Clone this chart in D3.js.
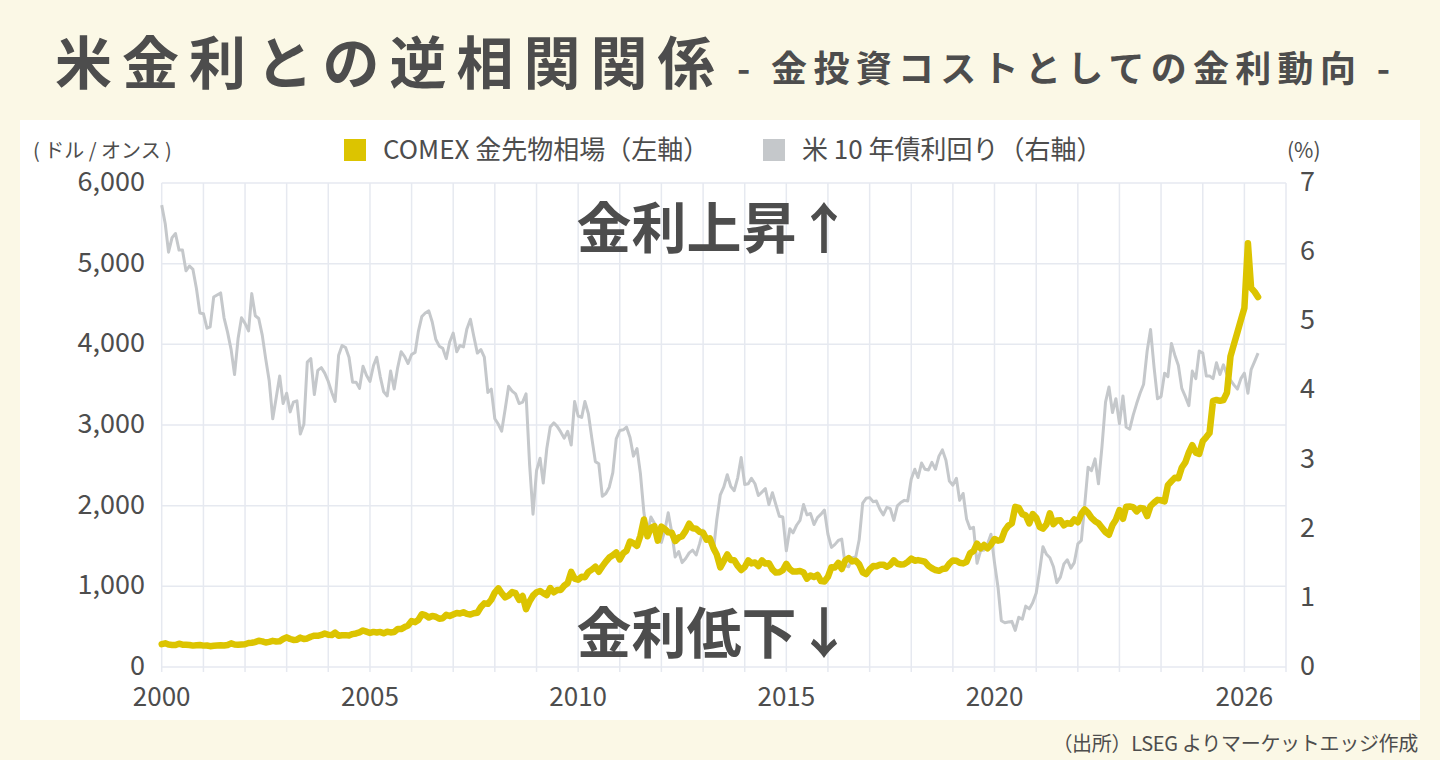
<!DOCTYPE html>
<html>
<head>
<meta charset="utf-8">
<script src="https://cdn.jsdelivr.net/npm/d3@7"></script>
<style>
  html, body { margin: 0; padding: 0; background: #fbf8e6; }
  svg { display: block; font-family: "Noto Sans CJK JP", "Noto Sans", sans-serif; }
</style>
</head>
<body>
<script>
// canvas
var w = 1440;
var h = 760;

// COMEX gold futures, USD/oz, monthly from Jan 2000
var goldPrice = [
  283, 294, 278, 274, 272, 289, 277, 277, 273, 265, 270, 273,
  265, 267, 258, 264, 267, 270, 266, 273, 293, 279, 275, 279,
  282, 297, 301, 309, 326, 318, 304, 312, 324, 317, 319, 347,
  368, 347, 335, 339, 364, 346, 354, 375, 388, 386, 398, 416,
  400, 396, 427, 388, 394, 395, 391, 408, 416, 429, 453, 438,
  422, 435, 428, 435, 417, 437, 429, 433, 470, 470, 495, 513,
  569, 556, 583, 654, 643, 613, 633, 623, 598, 604, 646, 632,
  651, 669, 663, 679, 659, 650, 666, 673, 743, 789, 783, 834,
  923, 975, 916, 864, 885, 928, 915, 833, 880, 718, 814, 884,
  927, 942, 916, 891, 979, 926, 954, 955, 1008, 1040, 1179, 1096,
  1081, 1118, 1113, 1179, 1207, 1244, 1181, 1247, 1307, 1357, 1385, 1421,
  1333, 1411, 1439, 1556, 1536, 1502, 1628, 1828, 1620, 1725, 1746, 1566,
  1740, 1710, 1669, 1664, 1561, 1604, 1622, 1688, 1776, 1719, 1713, 1676,
  1663, 1578, 1595, 1476, 1393, 1234, 1312, 1396, 1326, 1323, 1253, 1202,
  1240, 1321, 1284, 1296, 1250, 1322, 1282, 1287, 1210, 1171, 1175, 1199,
  1278, 1212, 1183, 1184, 1190, 1172, 1095, 1135, 1115, 1142, 1065, 1061,
  1118, 1238, 1234, 1291, 1215, 1321, 1350, 1309, 1317, 1273, 1174, 1152,
  1211, 1252, 1248, 1268, 1269, 1242, 1269, 1322, 1280, 1271, 1275, 1303,
  1343, 1318, 1325, 1315, 1305, 1253, 1224, 1202, 1192, 1215, 1222, 1282,
  1321, 1316, 1292, 1284, 1305, 1410, 1437, 1529, 1472, 1512, 1472, 1517,
  1587, 1566, 1577, 1694, 1751, 1781, 1985, 1973, 1895, 1880, 1780, 1895,
  1850, 1734, 1715, 1768, 1905, 1771, 1817, 1818, 1757, 1784, 1776, 1829,
  1795, 1900, 1954, 1911, 1848, 1807, 1782, 1726, 1672, 1640, 1759, 1826,
  1945, 1837, 1986, 1990, 1982, 1929, 1971, 1966, 1870, 1996, 2038, 2072,
  2067, 2054, 2254, 2302, 2345, 2339, 2473, 2536, 2660, 2749, 2657, 2641,
  2800, 2850, 2900, 3300, 3310, 3300, 3310, 3400, 3850, 4000, 4150, 4300,
  4450, 5254, 4700, 4650, 4585
];

// US 10y treasury yield, %, monthly from Jan 2000
var yield10y = [
  6.68, 6.41, 6.00, 6.21, 6.27, 6.03, 6.03, 5.73, 5.80, 5.75, 5.47, 5.12,
  5.11, 4.90, 4.92, 5.35, 5.38, 5.41, 5.05, 4.84, 4.59, 4.23, 4.75, 5.05,
  4.97, 4.86, 5.40, 5.08, 5.04, 4.80, 4.46, 4.14, 3.59, 3.89, 4.21, 3.81,
  3.96, 3.69, 3.83, 3.85, 3.37, 3.51, 4.41, 4.46, 3.94, 4.29, 4.33, 4.25,
  4.13, 3.97, 3.84, 4.51, 4.65, 4.62, 4.48, 4.12, 4.12, 4.03, 4.35, 4.22,
  4.13, 4.36, 4.48, 4.20, 3.98, 3.92, 4.28, 4.02, 4.33, 4.56, 4.49, 4.39,
  4.52, 4.55, 4.85, 5.07, 5.12, 5.15, 4.99, 4.74, 4.64, 4.61, 4.46, 4.70,
  4.83, 4.56, 4.65, 4.63, 4.89, 5.03, 4.78, 4.54, 4.59, 4.48, 3.97, 4.02,
  3.59, 3.51, 3.41, 3.73, 4.06, 3.99, 3.95, 3.81, 3.83, 3.95, 2.93, 2.21,
  2.84, 3.02, 2.66, 3.16, 3.47, 3.53, 3.48, 3.40, 3.31, 3.41, 3.21, 3.84,
  3.63, 3.61, 3.84, 3.66, 3.31, 2.97, 2.94, 2.47, 2.51, 2.60, 2.81, 3.30,
  3.42, 3.43, 3.47, 3.32, 3.05, 3.16, 2.80, 2.23, 1.92, 2.17, 2.08, 1.89,
  1.80, 1.98, 2.23, 1.95, 1.59, 1.67, 1.51, 1.57, 1.65, 1.69, 1.62, 1.78,
  1.98, 1.88, 1.85, 1.67, 2.13, 2.49, 2.60, 2.78, 2.61, 2.55, 2.74, 3.03,
  2.64, 2.65, 2.73, 2.65, 2.48, 2.53, 2.58, 2.35, 2.52, 2.35, 2.18, 2.17,
  1.68, 2.00, 1.94, 2.05, 2.12, 2.35, 2.20, 2.22, 2.06, 2.16, 2.21, 2.27,
  1.92, 1.73, 1.77, 1.83, 1.85, 1.47, 1.45, 1.58, 1.59, 1.84, 2.37, 2.44,
  2.45, 2.39, 2.40, 2.28, 2.20, 2.31, 2.29, 2.12, 2.33, 2.38, 2.41, 2.40,
  2.72, 2.86, 2.74, 2.95, 2.86, 2.85, 2.96, 2.86, 3.05, 3.14, 2.99, 2.69,
  2.63, 2.73, 2.41, 2.51, 2.14, 2.00, 2.02, 1.50, 1.68, 1.69, 1.78, 1.92,
  1.51, 1.15, 0.67, 0.64, 0.65, 0.66, 0.53, 0.72, 0.69, 0.88, 0.84, 0.93,
  1.07, 1.40, 1.74, 1.63, 1.58, 1.45, 1.22, 1.30, 1.49, 1.55, 1.43, 1.51,
  1.78, 1.83, 2.32, 2.89, 2.84, 3.01, 2.65, 3.19, 3.83, 4.05, 3.68, 3.88,
  3.52, 3.92, 3.47, 3.44, 3.64, 3.81, 3.96, 4.09, 4.57, 4.88, 4.33, 3.88,
  3.91, 4.25, 4.20, 4.68, 4.51, 4.36, 4.03, 3.91, 3.78, 4.28, 4.17, 4.57,
  4.54, 4.21, 4.21, 4.17, 4.40, 4.23, 4.37, 4.23, 4.15, 4.08, 4.02, 4.17,
  4.25, 3.96, 4.30, 4.42, 4.54
];

var startMonth = new Date(2000, 0, 1);
var yearLabels = [2000, 2005, 2010, 2015, 2020, 2026];
var goldTicks = [0, 1000, 2000, 3000, 4000, 5000, 6000];
var yieldTicks = [0, 1, 2, 3, 4, 5, 6, 7];

var seriesNames = ["COMEX 金先物相場（左軸）", "米 10 年債利回り（右軸）"];
var titleText = "米金利との逆相関関係";
var subtitleText = "- 金投資コストとしての金利動向 -";
var upText = "金利上昇↑";
var downText = "金利低下↓";
var sourceText = "（出所）LSEG よりマーケットエッジ作成";

var gold = "#dcc400";
var grey = "#c5c8cb";
var ink = "#4d4d4d";
var gridColor = "#e6e9f0";

var margin = {left: 161.7, right: 1286, top: 183, bottom: 667};

var svg = d3.select("body")
    .append("svg")
    .attr("width", w)
    .attr("height", h);

svg.append("rect").attr("width", w).attr("height", h).attr("fill", "#fbf8e6");
svg.append("rect")
    .attr("x", 20).attr("y", 120)
    .attr("width", 1400).attr("height", 600)
    .attr("fill", "#ffffff");

var x = d3.scaleTime()
    .domain([new Date(2000, 0, 1), new Date(2027, 0, 1)])
    .range([margin.left, margin.right]);

var yLeft = d3.scaleLinear().domain([0, 6000]).range([margin.bottom, margin.top]);
var yRight = d3.scaleLinear().domain([0, 7]).range([margin.bottom, margin.top]);

var goldData = goldPrice.map(function(v, i) {
  return {date: d3.timeMonth.offset(startMonth, i), value: v};
});
var yieldData = yield10y.map(function(v, i) {
  return {date: d3.timeMonth.offset(startMonth, i), value: v};
});

// grid
var years = d3.timeYear.range(new Date(2000, 0, 1), new Date(2027, 0, 2));

svg.selectAll(".vgrid")
    .data(years)
    .enter()
    .append("line")
    .attr("class", "vgrid")
    .attr("x1", function(d) { return x(d); })
    .attr("x2", function(d) { return x(d); })
    .attr("y1", margin.top)
    .attr("y2", margin.bottom + 5)
    .attr("stroke", gridColor)
    .attr("stroke-width", 1.5);

svg.selectAll(".hgrid")
    .data(goldTicks)
    .enter()
    .append("line")
    .attr("class", "hgrid")
    .attr("x1", margin.left)
    .attr("x2", margin.right)
    .attr("y1", function(d) { return yLeft(d); })
    .attr("y2", function(d) { return yLeft(d); })
    .attr("stroke", gridColor)
    .attr("stroke-width", 1.5);

// axes labels
svg.selectAll(".ylab")
    .data(goldTicks)
    .enter()
    .append("text")
    .attr("x", 145)
    .attr("y", function(d) { return yLeft(d) + 8; })
    .attr("text-anchor", "end")
    .attr("font-size", 27)
    .attr("fill", ink)
    .text(function(d) { return d3.format(",")(d); });

svg.selectAll(".yrlab")
    .data(yieldTicks)
    .enter()
    .append("text")
    .attr("x", 1300)
    .attr("y", function(d) { return yRight(d) + 8; })
    .attr("font-size", 27)
    .attr("fill", ink)
    .text(function(d) { return d; });

svg.selectAll(".xlab")
    .data(yearLabels)
    .enter()
    .append("text")
    .attr("x", function(d) { return x(new Date(d, 0, 1)); })
    .attr("y", 706)
    .attr("text-anchor", "middle")
    .attr("font-size", 26)
    .attr("fill", ink)
    .text(function(d) { return d; });

svg.append("text")
    .attr("x", 33).attr("y", 158)
    .attr("font-size", 20)
    .attr("fill", ink)
    .text("( ドル / オンス )");

svg.append("text")
    .attr("x", 1287).attr("y", 158)
    .attr("font-size", 21)
    .attr("fill", ink)
    .text("(%)");

// lines
var lineL = d3.line()
    .x(function(d) { return x(d.date); })
    .y(function(d) { return yLeft(d.value); });
var lineR = d3.line()
    .x(function(d) { return x(d.date); })
    .y(function(d) { return yRight(d.value); });

svg.append("path")
    .datum(yieldData)
    .attr("fill", "none")
    .attr("stroke", grey)
    .attr("stroke-width", 3)
    .attr("stroke-linejoin", "round")
    .attr("d", lineR);

svg.append("path")
    .datum(goldData)
    .attr("fill", "none")
    .attr("stroke", gold)
    .attr("stroke-width", 6.5)
    .attr("stroke-linejoin", "round")
    .attr("stroke-linecap", "round")
    .attr("d", lineL);

// legend
var legendX = [344, 763];
var legendColor = [gold, grey];
seriesNames.forEach(function(name, i) {
  svg.append("rect")
      .attr("x", legendX[i]).attr("y", 139)
      .attr("width", 22).attr("height", 22)
      .attr("fill", legendColor[i]);
  svg.append("text")
      .attr("x", legendX[i] + 39).attr("y", 159)
      .attr("font-size", 26)
      .attr("fill", ink)
      .text(name);
});

// annotations
svg.append("text")
    .attr("x", 714).attr("y", 248)
    .attr("text-anchor", "middle")
    .attr("font-size", 55)
    .attr("font-weight", 700)
    .attr("fill", ink)
    .text(upText);

svg.append("text")
    .attr("x", 714).attr("y", 653)
    .attr("text-anchor", "middle")
    .attr("font-size", 55)
    .attr("font-weight", 700)
    .attr("fill", ink)
    .text(downText);

// title
svg.append("text")
    .attr("x", 55).attr("y", 84)
    .attr("font-size", 57)
    .attr("font-weight", 700)
    .attr("letter-spacing", 10)
    .attr("fill", ink)
    .text(titleText);

svg.append("text")
    .attr("x", 737).attr("y", 82)
    .attr("font-size", 36)
    .attr("font-weight", 700)
    .attr("letter-spacing", 6.3)
    .attr("fill", ink)
    .text(subtitleText);

svg.append("text")
    .attr("x", 1418).attr("y", 751)
    .attr("text-anchor", "end")
    .attr("font-size", 20)
    .attr("letter-spacing", -0.3)
    .attr("fill", ink)
    .text(sourceText);
</script>
</body>
</html>
